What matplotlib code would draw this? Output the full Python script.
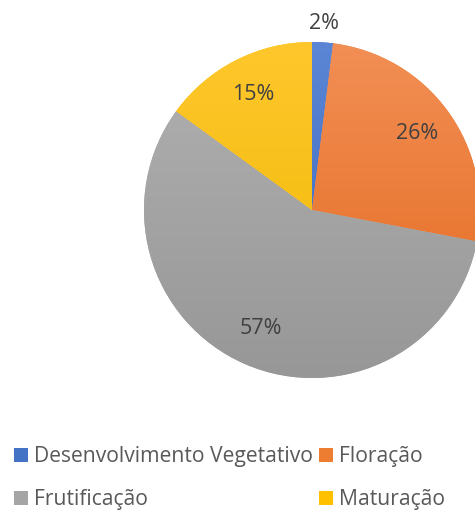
import numpy as np
import matplotlib.pyplot as plt
from matplotlib.colors import LinearSegmentedColormap

# Data
stages = ['Desenvolvimento Vegetativo', 'Floração', 'Frutificação', 'Maturação']
shares = [2, 26, 57, 15]
colors = ['#4472C4', '#ED7D31', '#A5A5A5', '#FFC000']
# light (top) and dark (bottom) tones of each slice, Excel style gradient
tops = ['#5B86D6', '#F28F55', '#B1B1B1', '#FFC72C']
bottoms = ['#3A66B8', '#E3681C', '#979797', '#EEB700']

plt.rcParams['font.family'] = ['Open Sans', 'DejaVu Sans']

fig = plt.figure(figsize=(4.75, 5.11), dpi=100)
W, H = 475, 511
cx, cy, r = 312, 210, 168
ax = fig.add_axes([(cx - r) / W, (H - cy - r) / H, 2 * r / W, 2 * r / H])
ax.set_xlim(-1, 1)
ax.set_ylim(-1, 1)
ax.axis('off')

wedges, texts, autotexts = ax.pie(
    shares, colors=colors, startangle=90, counterclock=False, radius=1,
    autopct='%1.0f%%', pctdistance=0.77,
    wedgeprops=dict(linewidth=0, edgecolor='none'),
    textprops=dict(fontsize=15.5, color='#404040'))
ax.set_xlim(-1, 1)
ax.set_ylim(-1, 1)

# vertical gradient inside each slice
for w, c_top, c_bot in zip(wedges, tops, bottoms):
    cmap = LinearSegmentedColormap.from_list('g', [c_bot, c_top])
    grad = np.linspace(0, 1, 256).reshape(-1, 1)
    im = ax.imshow(grad, cmap=cmap, extent=[-1, 1, -1, 1], origin='lower',
                   aspect='auto', zorder=w.get_zorder() + 0.1)
    im.set_clip_path(w)

for t in autotexts:
    t.set_zorder(5)

# small slice label sits outside the pie
x, y = autotexts[0].get_position()
autotexts[0].set_position((x * 1.11 / 0.77, y * 1.11 / 0.77))

# legend, row by row
order = [0, 2, 1, 3]
fig.legend([wedges[i] for i in order], [stages[i] for i in order],
           ncol=2, loc='upper left', bbox_to_anchor=(2 / W, 1 - 434 / H),
           frameon=False, fontsize=15.2, labelcolor='#595959',
           handlelength=0.65, handleheight=0.65, handletextpad=0.3,
           columnspacing=0.3, labelspacing=1.05, borderaxespad=0.17)

fig.savefig('out.png', dpi=100)
